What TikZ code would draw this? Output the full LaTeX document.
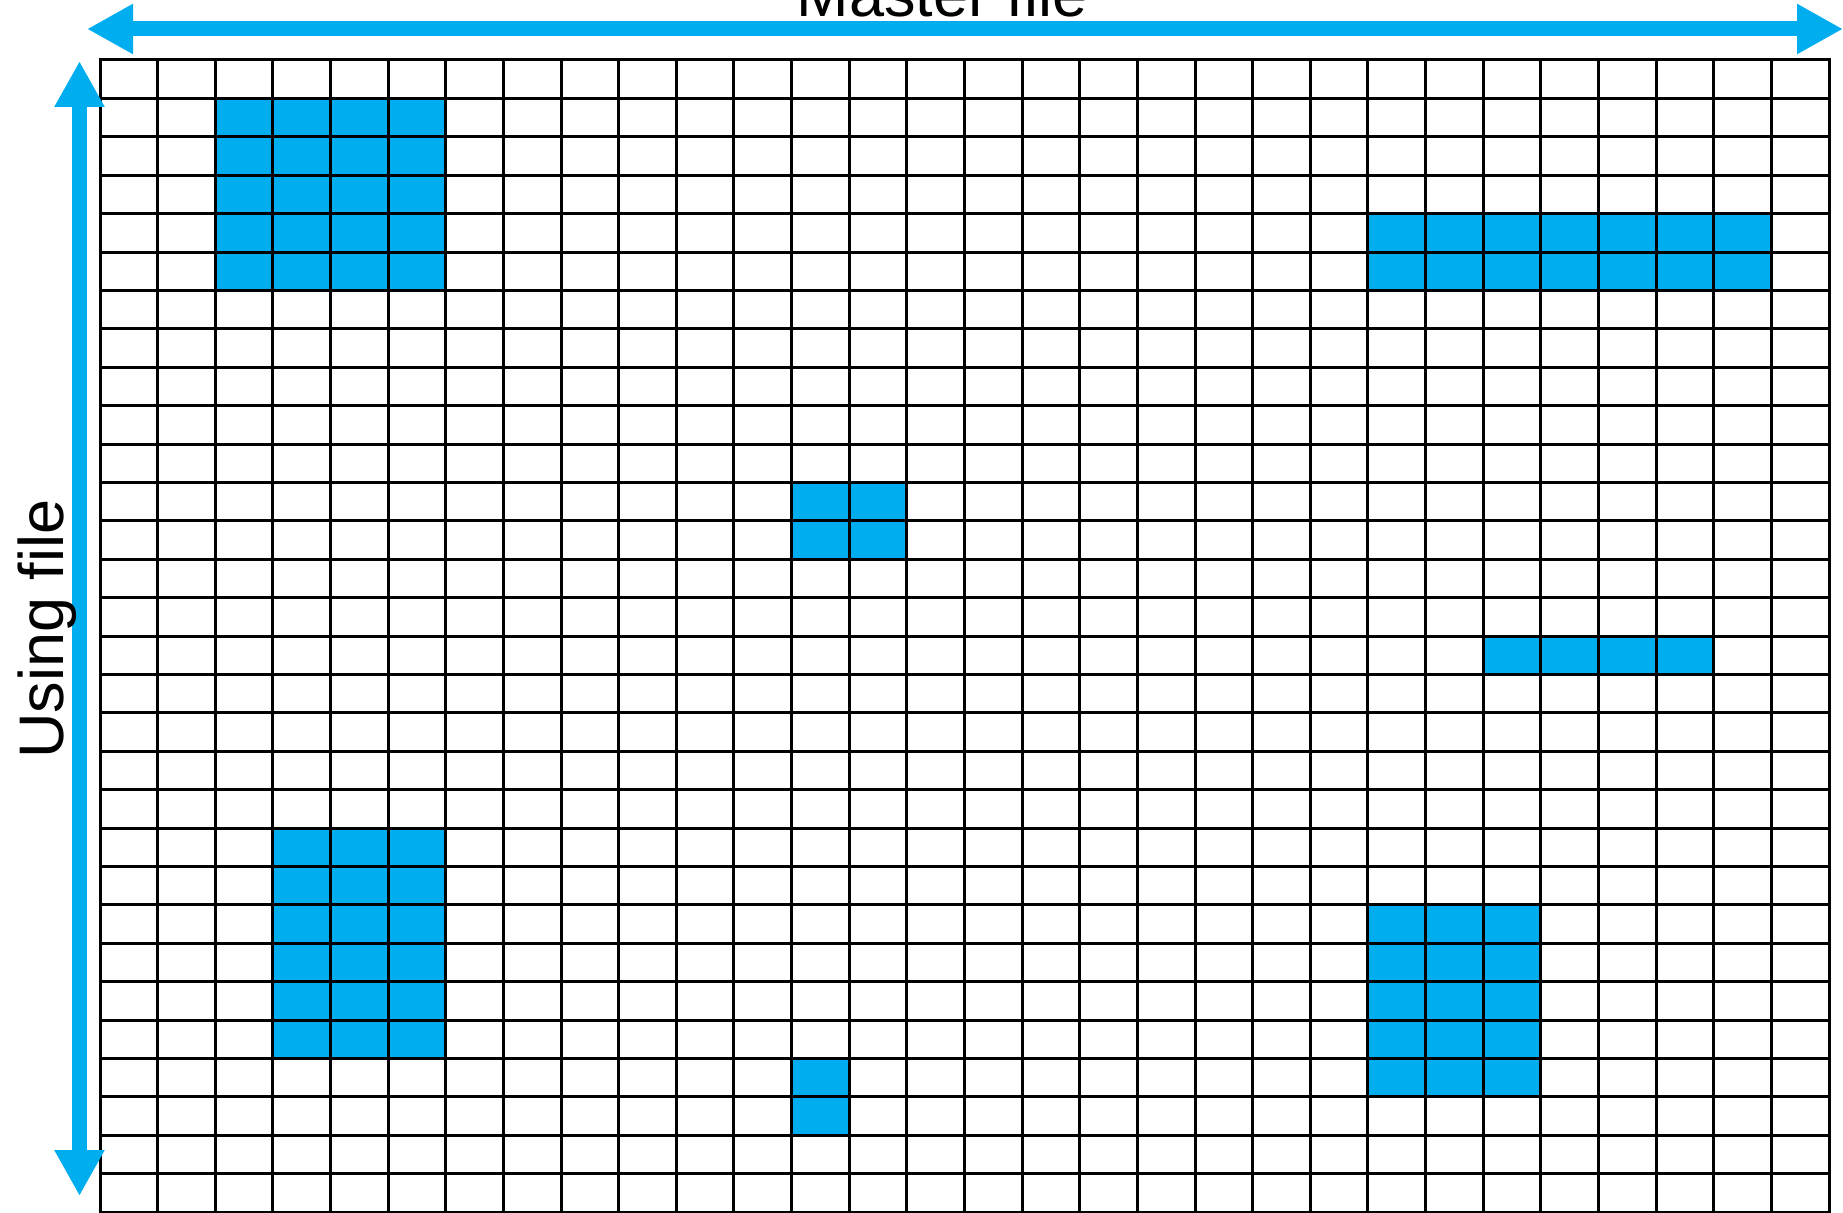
\documentclass[tikz,border=0pt]{standalone}
\usepackage{fontspec}
\setmainfont{Liberation Sans}
\usetikzlibrary{arrows.meta}
\definecolor{cellblue}{RGB}{0,174,239}
\begin{document}
\begin{tikzpicture}[x=1pt,y=-1pt,
  gridline/.style={draw=black,line width=3pt,line cap=rect},
  cellfill/.style={fill=cellblue},
  bigarrow/.style={draw=cellblue,line width=15pt,{Triangle[length=46pt,width=47pt]}-{Triangle[length=46pt,width=47pt]}},
  axislabel/.style={font=\fontsize{63}{75}\selectfont,inner sep=0pt,anchor=base}]
\useasboundingbox (0,0) rectangle (1843,1212);
\clip (0,0) rectangle (1843,1212);
\def\cw{57.633}
\def\rh{38.4}
% blue blocks: c1/c2/r1/r2 (inclusive)
\foreach \ca/\cb/\ra/\rb in {2/5/1/5, 22/28/4/5, 12/13/11/12, 24/27/15/15, 3/5/20/25, 22/24/22/26, 12/12/26/27}
  \fill[cellfill] ({100+\cw*\ca},{60+\rh*\ra}) rectangle ({100+\cw*(\cb+1)},{60+\rh*(\rb+1)});
% grid
\foreach \i in {0,...,30} {
  \draw[gridline] ({100+\cw*\i},60) -- ({100+\cw*\i},1212);
  \draw[gridline] (100,{60+\rh*\i}) -- (1829,{60+\rh*\i});
}
% arrows
\coordinate (mL) at (87,29);
\coordinate (mR) at (1843,29);
\draw[bigarrow] (mL) -- (mR);
\coordinate (uT) at (79.5,61);
\coordinate (uB) at (79.5,1196);
\draw[bigarrow] (uB) -- (uT);
% labels
\node[axislabel] (master) at (942,17) {Master file};
\node[axislabel,rotate=90] (using) at (63,629) {Using file};
\end{tikzpicture}
\end{document}
